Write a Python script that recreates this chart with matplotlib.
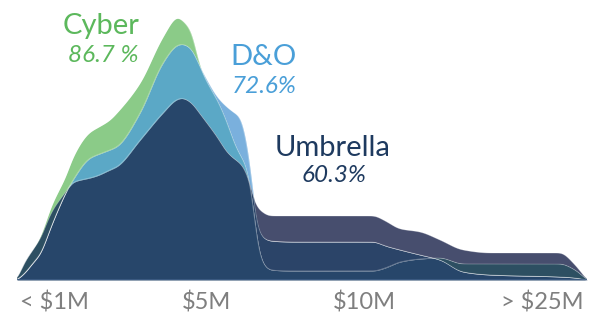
import numpy as np
import matplotlib
matplotlib.use("Agg")
import matplotlib.pyplot as plt

plt.rcParams["font.family"] = ["Lato", "DejaVu Sans"]

# position along the limit axis (0 = lowest bucket, 100 = highest)
positions = [0, 1.4, 2.8, 4.0, 6.1, 8.8, 9.6, 12.8, 14.0, 16.3, 17.5, 21.6, 25.6,
             28.2, 28.9, 30.4, 32.1, 33.3, 35.1, 36.8, 37.9, 39.1, 40.0, 40.9,
             41.4, 42.1, 43.0, 44.4, 48.4, 62.5, 64.6, 67.2, 70.7, 74.2, 78.2,
             83.0, 95.3, 97.9, 100]

cyber = [0, 1.8, 3.0, 4.2, 7.5, 10.7, 12.0, 14.8, 15.2, 16.0, 16.7, 19.7, 24.3,
         26.3, 26.0, 25.0, 21.3, 19.8, 18.0, 15.8, 14.0, 12.5, 11.7, 9.5,
         7.5, 4.0, 1.8, 1.0, 0.9, 0.9, 1.2, 1.8, 2.1, 2.2, 1.6,
         1.6, 1.6, 1.0, 0]

dno = [0, 0.7, 1.7, 2.5, 5.5, 9.0, 9.8, 12.2, 12.5, 13.0, 13.3, 16.7, 21.7,
       23.5, 23.6, 23.2, 21.3, 20.0, 18.3, 17.3, 16.8, 16.3, 14.5, 11.3,
       8.7, 5.5, 4.3, 3.9, 3.8, 3.8, 3.4, 3.0, 2.5, 2.0, 0.8,
       0.5, 0.3, 0.2, 0]

umbrella = [0, 1.8, 3.0, 4.0, 6.8, 9.0, 9.7, 10.2, 10.4, 11.0, 11.3, 14.0, 16.7,
            18.1, 18.2, 17.8, 16.6, 15.7, 14.3, 12.8, 12.2, 11.7, 11.0, 9.5,
            8.3, 7.3, 6.8, 6.4, 6.4, 6.4, 5.9, 5.1, 4.8, 4.0, 3.0,
            2.7, 2.7, 1.5, 0]

tick_labels = ["< $1M", "$5M", "$10M", "> $25M"]
tick_pos = [6.6, 33.3, 61.0, 92.1]

names = ["Cyber", "D&O", "Umbrella"]
shares = ["86.7 %", "72.6%", "60.3%"]


def pchip(x, y, xn):
    x = np.asarray(x, float)
    y = np.asarray(y, float)
    h = np.diff(x)
    d = np.diff(y) / h
    m = np.zeros_like(y)
    for k in range(1, len(y) - 1):
        if d[k - 1] * d[k] > 0:
            w1 = 2 * h[k] + h[k - 1]
            w2 = h[k] + 2 * h[k - 1]
            m[k] = (w1 + w2) / (w1 / d[k - 1] + w2 / d[k])
    m[0], m[-1] = d[0], d[-1]
    idx = np.clip(np.searchsorted(x, xn) - 1, 0, len(h) - 1)
    t = (xn - x[idx]) / h[idx]
    h00 = 2 * t**3 - 3 * t**2 + 1
    h10 = t**3 - 2 * t**2 + t
    h01 = -2 * t**3 + 3 * t**2
    h11 = t**3 - t**2
    return h00 * y[idx] + h10 * h[idx] * m[idx] + h01 * y[idx + 1] + h11 * h[idx] * m[idx + 1]


def soften(xs, ys, sigma):
    step = xs[1] - xs[0]
    k = np.arange(-int(4 * sigma / step), int(4 * sigma / step) + 1) * step
    w = np.exp(-0.5 * (k / sigma) ** 2)
    w /= w.sum()
    pad = len(k) // 2
    yp = np.concatenate([np.zeros(pad), ys, np.zeros(pad)])
    return np.convolve(yp, w, mode="valid")


xs = np.linspace(0, 100, 3000)
curves = [soften(xs, np.clip(pchip(positions, s, xs), 0, None), 0.5)
          for s in (cyber, dno, umbrella)]

# colour of each overlap combination (cyber, d&o, umbrella)
region_colors = {
    (1, 0, 0): "#8bcb88",
    (0, 1, 0): "#7ab0dd",
    (1, 1, 0): "#5ba8c6",
    (0, 0, 1): "#474e6e",
    (0, 1, 1): "#2b4468",
    (1, 0, 1): "#2d4f62",
    (1, 1, 1): "#27466a",
}

fig = plt.figure(figsize=(6.02, 3.2), dpi=100)
ax = fig.add_axes([17 / 602, 40 / 320, 570 / 602, 280 / 320])

for combo, col in region_colors.items():
    inside = [c for c, f in zip(curves, combo) if f]
    outside = [c for c, f in zip(curves, combo) if not f]
    upper = np.min(inside, axis=0)
    lower = np.max(outside, axis=0) if outside else np.zeros_like(xs)
    ax.fill_between(xs, lower, upper, where=upper > lower, interpolate=True,
                    color=col, linewidth=0)

for c in curves:
    ax.plot(xs, c, color="white", lw=0.6, alpha=0.3)

ax.axhline(0, color="#3f5e85", lw=1.2)

label_colors = ["#5cb85c", "#4a9fd8", "#1e3a5f"]
label_xy = [(14.7, 24.6), (43.3, 21.5), (55.4, 12.4)]
share_xy = [(15.1, 21.8), (43.3, 18.7), (55.6, 9.8)]
for n, s, col, (lx, ly), (sx, sy) in zip(names, shares, label_colors, label_xy, share_xy):
    ax.text(lx, ly, n, color=col, fontsize=21, ha="center", va="baseline")
    ax.text(sx, sy, s, color=col, fontsize=17.5, style="italic", ha="center", va="baseline")

ax.set_xlim(0, 100)
ax.set_ylim(0, 28)
ax.set_xticks(tick_pos)
ax.set_xticklabels(tick_labels, fontsize=17, color="#7f7f7f")
ax.tick_params(axis="x", length=0, pad=8)
ax.set_yticks([])
for sp in ax.spines.values():
    sp.set_visible(False)

fig.savefig("out.png", dpi=100)
